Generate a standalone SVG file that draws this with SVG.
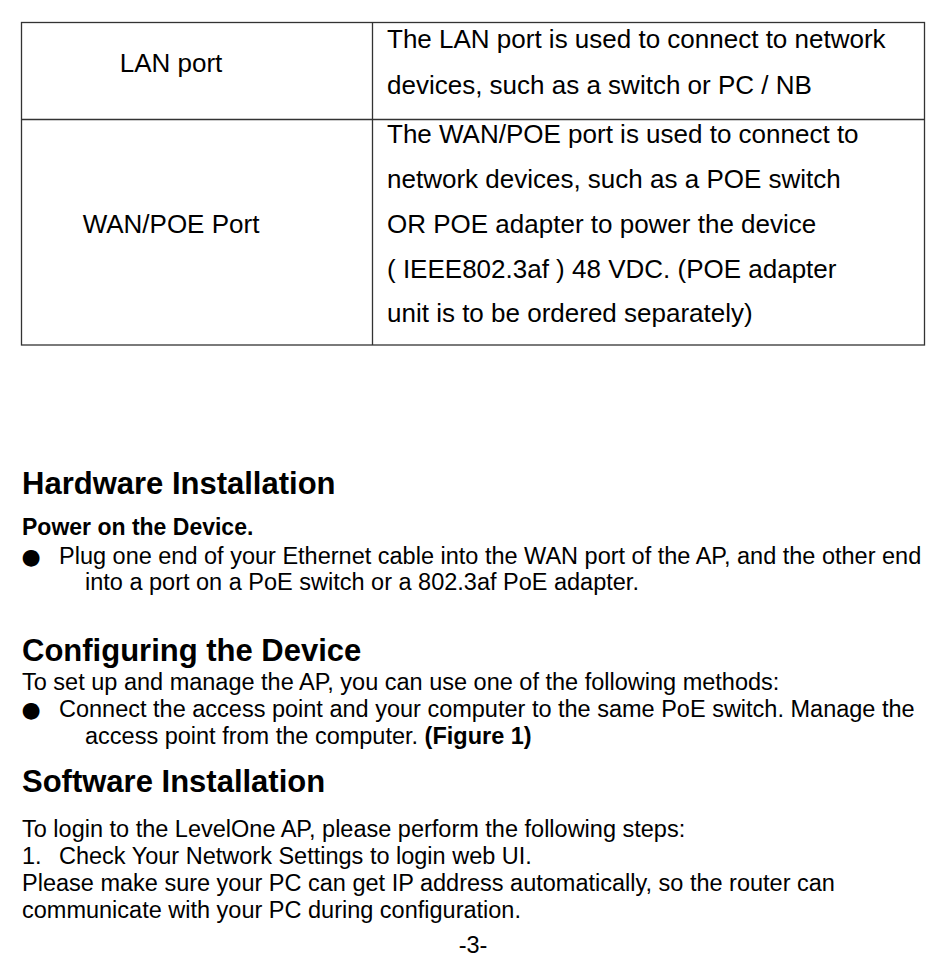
<svg xmlns="http://www.w3.org/2000/svg" width="950" height="957" viewBox="0 0 950 957">
<style>
text{font-family:"Liberation Sans",Arial,sans-serif;fill:#000}
.t{font-size:26px}
.b{font-size:23.5px}
.h{font-size:31px;font-weight:bold}
.sb{font-size:23px;font-weight:bold}
.bul{font-family:"DejaVu Sans",sans-serif;font-size:22px}
.ln{stroke:#333;stroke-width:1.3;fill:none}
</style>
<rect width="950" height="957" fill="#fff"/>
<g id="table">
<rect class="ln" x="21.5" y="22.5" width="903" height="322.5"/>
<line class="ln" x1="372.5" y1="22.5" x2="372.5" y2="345"/>
<line class="ln" x1="21.5" y1="119.5" x2="924.5" y2="119.5"/>
</g>
<g id="row-lan">
<text class="t" x="171" y="72" text-anchor="middle">LAN port</text>
<text class="t" x="387" y="48">The LAN port is used to connect to network</text>
<text class="t" x="387" y="94">devices, such as a switch or PC / NB</text>
</g>
<g id="row-wan">
<text class="t" x="171" y="233" text-anchor="middle">WAN/POE Port</text>
<text class="t" x="387" y="143">The WAN/POE port is used to connect to</text>
<text class="t" x="387" y="188">network devices, such as a POE switch</text>
<text class="t" x="387" y="233">OR POE adapter to power the device</text>
<text class="t" x="387" y="278">( IEEE802.3af ) 48 VDC. (POE adapter</text>
<text class="t" x="387" y="322">unit is to be ordered separately)</text>
</g>
<g id="hardware">
<text class="h" x="22" y="494">Hardware Installation</text>
<text class="sb" x="22" y="535">Power on the Device.</text>
<text class="bul" x="21.5" y="563.5">●</text>
<text class="b" x="59" y="564">Plug one end of your Ethernet cable into the WAN port of the AP, and the other end</text>
<text class="b" x="85" y="590">into a port on a PoE switch or a 802.3af PoE adapter.</text>
</g>
<g id="configuring">
<text class="h" x="22" y="661">Configuring the Device</text>
<text class="b" x="22" y="690">To set up and manage the AP, you can use one of the following methods:</text>
<text class="bul" x="21.5" y="716.5">●</text>
<text class="b" x="59" y="717">Connect the access point and your computer to the same PoE switch. Manage the</text>
<text class="b" x="85" y="744">access point from the computer. <tspan font-weight="bold">(Figure 1)</tspan></text>
</g>
<g id="software">
<text class="h" x="22" y="792">Software Installation</text>
<text class="b" x="22" y="837">To login to the LevelOne AP, please perform the following steps:</text>
<text class="b" x="22" y="864">1.</text>
<text class="b" x="59" y="864">Check Your Network Settings to login web UI.</text>
<text class="b" x="22" y="891">Please make sure your PC can get IP address automatically, so the router can</text>
<text class="b" x="22" y="918">communicate with your PC during configuration.</text>
</g>
<g id="footer">
<text class="b" x="473" y="953" text-anchor="middle">-3-</text>
</g>
</svg>
